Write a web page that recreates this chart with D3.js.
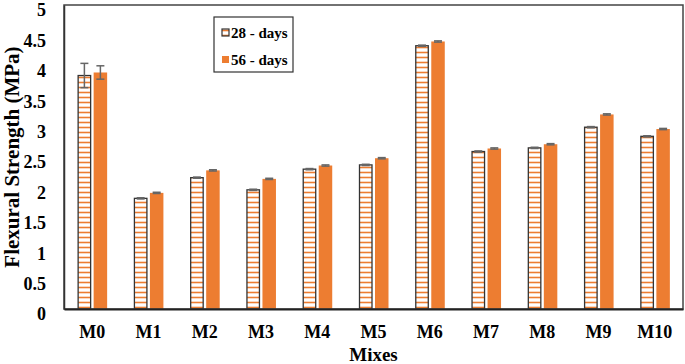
<!DOCTYPE html>
<html>
<head>
<meta charset="utf-8">
<script src="https://cdn.jsdelivr.net/npm/d3@7"></script>
<style>
  body { margin: 0; background: #fff; }
  text { font-family: "Liberation Serif", "Times New Roman", serif; font-weight: bold; }
</style>
</head>
<body>
<div id="chart_area"></div>
<script>
// data
var mixes = ["M0", "M1", "M2", "M3", "M4", "M5", "M6", "M7", "M8", "M9", "M10"];
var days28 = [3.84, 1.82, 2.16, 1.96, 2.30, 2.37, 4.33, 2.59, 2.65, 2.99, 2.84];
var days56 = [3.89, 1.91, 2.28, 2.14, 2.36, 2.48, 4.40, 2.64, 2.71, 3.20, 2.96];
var err28 = [0.20, 0.01, 0.01, 0.01, 0.01, 0.01, 0.01, 0.01, 0.01, 0.01, 0.01];
var err56 = [0.11, 0.01, 0.01, 0.01, 0.01, 0.01, 0.01, 0.01, 0.01, 0.01, 0.01];
var yTicks = [0, 0.5, 1, 1.5, 2, 2.5, 3, 3.5, 4, 4.5, 5];
var seriesNames = ["28 - days", "56 - days"];

var orange = "#ED7D31";

// set the dimensions and margins of the graph
var W = 685, H = 364;
var margin = { top: 5, right: 2, bottom: 55, left: 64 },
    width = W - margin.left - margin.right,
    height = H - margin.top - margin.bottom;

var svg = d3.select("#chart_area")
    .append("svg")
    .attr("width", W)
    .attr("height", H);

// hatch pattern for the 28-day bars
var defs = svg.append("defs");
var pat = defs.append("pattern")
    .attr("id", "hatch")
    .attr("patternUnits", "userSpaceOnUse")
    .attr("width", 8)
    .attr("height", 5);
pat.append("rect").attr("width", 8).attr("height", 5).attr("fill", "#fff");
pat.append("line")
    .attr("x1", 0).attr("x2", 8)
    .attr("y1", 2.5).attr("y2", 2.5)
    .attr("stroke", orange)
    .attr("stroke-width", 1.6);

var g = svg.append("g")
    .attr("transform", "translate(" + margin.left + "," + margin.top + ")");

var x = d3.scaleBand()
    .domain(mixes)
    .range([0, width]);

var y = d3.scaleLinear()
    .domain([0, 5])
    .range([height, 0]);

var barW = 12.5, gap = 3;

var data = mixes.map(function (m, i) {
    return { mix: m, a: days28[i], b: days56[i], ea: err28[i], eb: err56[i] };
});

// 28-day bars
g.selectAll(".bar28")
    .data(data)
    .enter()
    .append("rect")
    .attr("x", function (d) { return x(d.mix) + x.bandwidth() / 2 - gap / 2 - barW; })
    .attr("y", function (d) { return y(d.a); })
    .attr("width", barW)
    .attr("height", function (d) { return y(0) - y(d.a); })
    .attr("fill", "url(#hatch)")
    .attr("stroke", "#333")
    .attr("stroke-width", 1.3);

// 56-day bars
g.selectAll(".bar56")
    .data(data)
    .enter()
    .append("rect")
    .attr("x", function (d) { return x(d.mix) + x.bandwidth() / 2 + gap / 2; })
    .attr("y", function (d) { return y(d.b); })
    .attr("width", barW + 1)
    .attr("height", function (d) { return y(0) - y(d.b); })
    .attr("fill", orange);

// error bars
function errBars(cls, cxFn, valKey, errKey) {
    var eg = g.selectAll("." + cls)
        .data(data)
        .enter()
        .append("g")
        .attr("stroke", "#666")
        .attr("stroke-width", 1.5);
    eg.append("line")
        .attr("x1", cxFn).attr("x2", cxFn)
        .attr("y1", function (d) { return y(d[valKey] + d[errKey]); })
        .attr("y2", function (d) { return y(d[valKey] - d[errKey]); });
    eg.append("line")
        .attr("x1", function (d) { return cxFn(d) - 4; })
        .attr("x2", function (d) { return cxFn(d) + 4; })
        .attr("y1", function (d) { return y(d[valKey] + d[errKey]); })
        .attr("y2", function (d) { return y(d[valKey] + d[errKey]); });
    eg.append("line")
        .attr("x1", function (d) { return cxFn(d) - 4; })
        .attr("x2", function (d) { return cxFn(d) + 4; })
        .attr("y1", function (d) { return y(d[valKey] - d[errKey]); })
        .attr("y2", function (d) { return y(d[valKey] - d[errKey]); });
}
errBars("e28", function (d) { return x(d.mix) + x.bandwidth() / 2 - gap / 2 - barW / 2; }, "a", "ea");
errBars("e56", function (d) { return x(d.mix) + x.bandwidth() / 2 + gap / 2 + (barW + 1) / 2; }, "b", "eb");

// plot border
g.append("rect")
    .attr("x", 0).attr("y", 0)
    .attr("width", width).attr("height", height)
    .attr("fill", "none")
    .attr("stroke", "#444")
    .attr("stroke-width", 1.5);

// Y axis
var yAxis = g.append("g")
    .call(d3.axisLeft(y).tickValues(yTicks).tickSize(0).tickPadding(18)
        .tickFormat(function (d) { return d; }));
yAxis.select(".domain").attr("stroke", "#333").attr("stroke-width", 1.5);
yAxis.selectAll("text")
    .attr("dy", "0.6em")
    .style("font-size", "18px")
    .style("font-family", "Liberation Serif")
    .attr("fill", "#000");

// X axis
var xAxis = g.append("g")
    .attr("transform", "translate(0," + height + ")")
    .call(d3.axisBottom(x).tickSize(0).tickPadding(16));
xAxis.select(".domain").attr("stroke", "#222").attr("stroke-width", 1.8);
xAxis.selectAll("text")
    .style("font-size", "18px")
    .style("font-family", "Liberation Serif")
    .attr("fill", "#000");

// axis titles
svg.append("text")
    .attr("transform", "translate(12,157) rotate(-90)")
    .attr("text-anchor", "middle")
    .attr("dy", "0.35em")
    .style("font-size", "21px")
    .attr("fill", "#000")
    .text("Flexural Strength (MPa)");

svg.append("text")
    .attr("x", margin.left + width / 2)
    .attr("y", 361)
    .attr("text-anchor", "middle")
    .style("font-size", "19px")
    .attr("fill", "#000")
    .text("Mixes");

// legend
var lg = svg.append("g").attr("transform", "translate(214,17)");
lg.append("rect")
    .attr("width", 79).attr("height", 55)
    .attr("fill", "#fff")
    .attr("stroke", "#333")
    .attr("stroke-width", 1.2);
var items = lg.selectAll(".item")
    .data(seriesNames)
    .enter()
    .append("g")
    .attr("transform", function (d, i) { return "translate(8," + (16 + i * 27) + ")"; });
items.append("rect")
    .attr("x", 0).attr("y", -4)
    .attr("width", 7).attr("height", 7)
    .attr("fill", function (d, i) { return i === 0 ? "url(#hatch)" : orange; })
    .attr("stroke", function (d, i) { return i === 0 ? "#333" : "none"; })
    .attr("stroke-width", 1.2);
items.append("text")
    .attr("x", 9)
    .attr("y", 0)
    .attr("dy", "0.35em")
    .style("font-size", "15px")
    .attr("fill", "#000")
    .text(function (d) { return d; });
</script>
</body>
</html>
